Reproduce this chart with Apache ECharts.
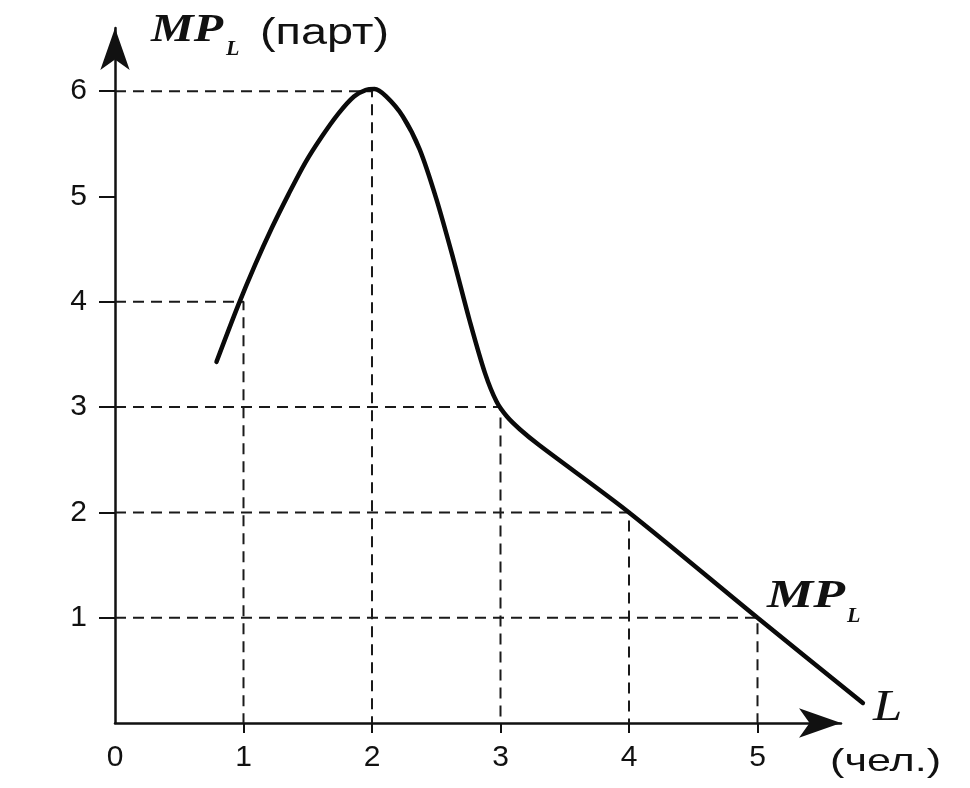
<!DOCTYPE html>
<html>
<head>
<meta charset="utf-8">
<style>html,body{margin:0;padding:0;background:#fff;}#c{width:970px;height:788px;}</style>
<script src="https://cdn.jsdelivr.net/npm/echarts@6/dist/echarts.min.js"></script>
</head>
<body>
<div id="c"></div>
<script>
// ---- data ----
const xTickLabels = [0, 1, 2, 3, 4, 5];
const xTickMarks = [1, 2, 3, 4, 5];
const yTickLabels = [1, 2, 3, 4, 5, 6];
const curveX = [0.79, 0.96, 1.09, 1.22, 1.35, 1.48, 1.61, 1.74, 1.86, 1.95, 2.02, 2.11, 2.24, 2.37, 2.5, 2.63, 2.76, 2.88, 2.97, 3.05, 3.15, 3.3, 4.0, 5.0, 5.82];
const curveY = [3.43, 3.97, 4.35, 4.70, 5.02, 5.32, 5.57, 5.79, 5.95, 6.01, 6.02, 5.95, 5.76, 5.45, 4.98, 4.42, 3.82, 3.32, 3.05, 2.91, 2.79, 2.64, 2.0, 1.0, 0.19];
const guideX = [1, 2, 3, 4, 5];
const guideY = [4, 6, 3, 2, 1];

const chart = echarts.init(document.getElementById('c'));
const ink = '#111';
const labelFont = { color: ink, fontSize: 30, fontFamily: 'Liberation Sans, Arial, sans-serif' };
const arrowLine = { show: true, lineStyle: { color: ink, width: 2.5 }, symbol: ['none', 'arrow'], symbolSize: [22, 42] };

const guideSeries = guideX.map((gx, i) => ({
  type: 'line',
  xAxisIndex: 0, yAxisIndex: 0,
  data: [[0, guideY[i]], [gx, guideY[i]], [gx, 0]],
  symbol: 'none',
  lineStyle: { color: '#1a1a1a', width: 2, type: [11, 7] },
  silent: true,
  z: 1
}));

const serif = '"Liberation Serif", "Times New Roman", serif';
const sans = '"Liberation Sans", Arial, sans-serif';

chart.setOption({
  animation: false,
  backgroundColor: '#fff',
  grid: [
    { left: 115, width: 758.15, top: 28, bottom: 65 },   // data grid (same scale, wider so the curve runs past the arrow)
    { left: 115, width: 726.03, top: 28, bottom: 65 }    // visible axes
  ],
  xAxis: [
    { type: 'value', gridIndex: 0, min: 0, max: 5.9, show: false },
    {
      type: 'value', gridIndex: 1, min: 0, max: 5.65, interval: 1,
      splitLine: { show: false },
      axisLine: arrowLine,
      axisTick: { show: true, length: 10, lineStyle: { color: ink, width: 2 }, customValues: xTickMarks },
      axisLabel: Object.assign({ customValues: xTickLabels, margin: 20 }, labelFont)
    }
  ],
  yAxis: [
    { type: 'value', gridIndex: 0, min: 0, max: 6.6, show: false },
    {
      type: 'value', gridIndex: 1, min: 0, max: 6.6, interval: 1,
      splitLine: { show: false },
      axisLine: arrowLine,
      axisTick: { show: true, length: 16, lineStyle: { color: ink, width: 2 }, customValues: yTickLabels },
      axisLabel: Object.assign({ customValues: yTickLabels, margin: 28 }, labelFont)
    }
  ],
  series: guideSeries.concat([{
    type: 'line',
    xAxisIndex: 0, yAxisIndex: 0,
    data: curveX.map((x, i) => [x, curveY[i]]),
    smooth: 0.3,
    symbol: 'none',
    lineStyle: { color: '#0a0a0a', width: 4.5, cap: 'round' },
    z: 3
  }]),
  graphic: [
    { type: 'text', left: 151, top: 11, scaleX: 1.2, style: { text: 'MP', fill: ink, font: 'italic bold 40px ' + serif } },
    { type: 'text', left: 226, top: 38, style: { text: 'L', fill: ink, font: 'italic bold 22px ' + serif } },
    { type: 'text', left: 260, top: 16, scaleX: 1.3, style: { text: '(парт)', fill: ink, font: '36px ' + sans } },
    { type: 'text', left: 767, top: 577, scaleX: 1.3, style: { text: 'MP', fill: ink, font: 'italic bold 40px ' + serif } },
    { type: 'text', left: 847, top: 605, style: { text: 'L', fill: ink, font: 'italic bold 22px ' + serif } },
    { type: 'text', left: 873, top: 686, scaleX: 1.2, style: { text: 'L', fill: ink, font: 'italic 44px ' + serif } },
    { type: 'text', left: 830, top: 746, scaleX: 1.35, style: { text: '(чел.)', fill: ink, font: '32px ' + sans } }
  ]
});
</script>
</body>
</html>
